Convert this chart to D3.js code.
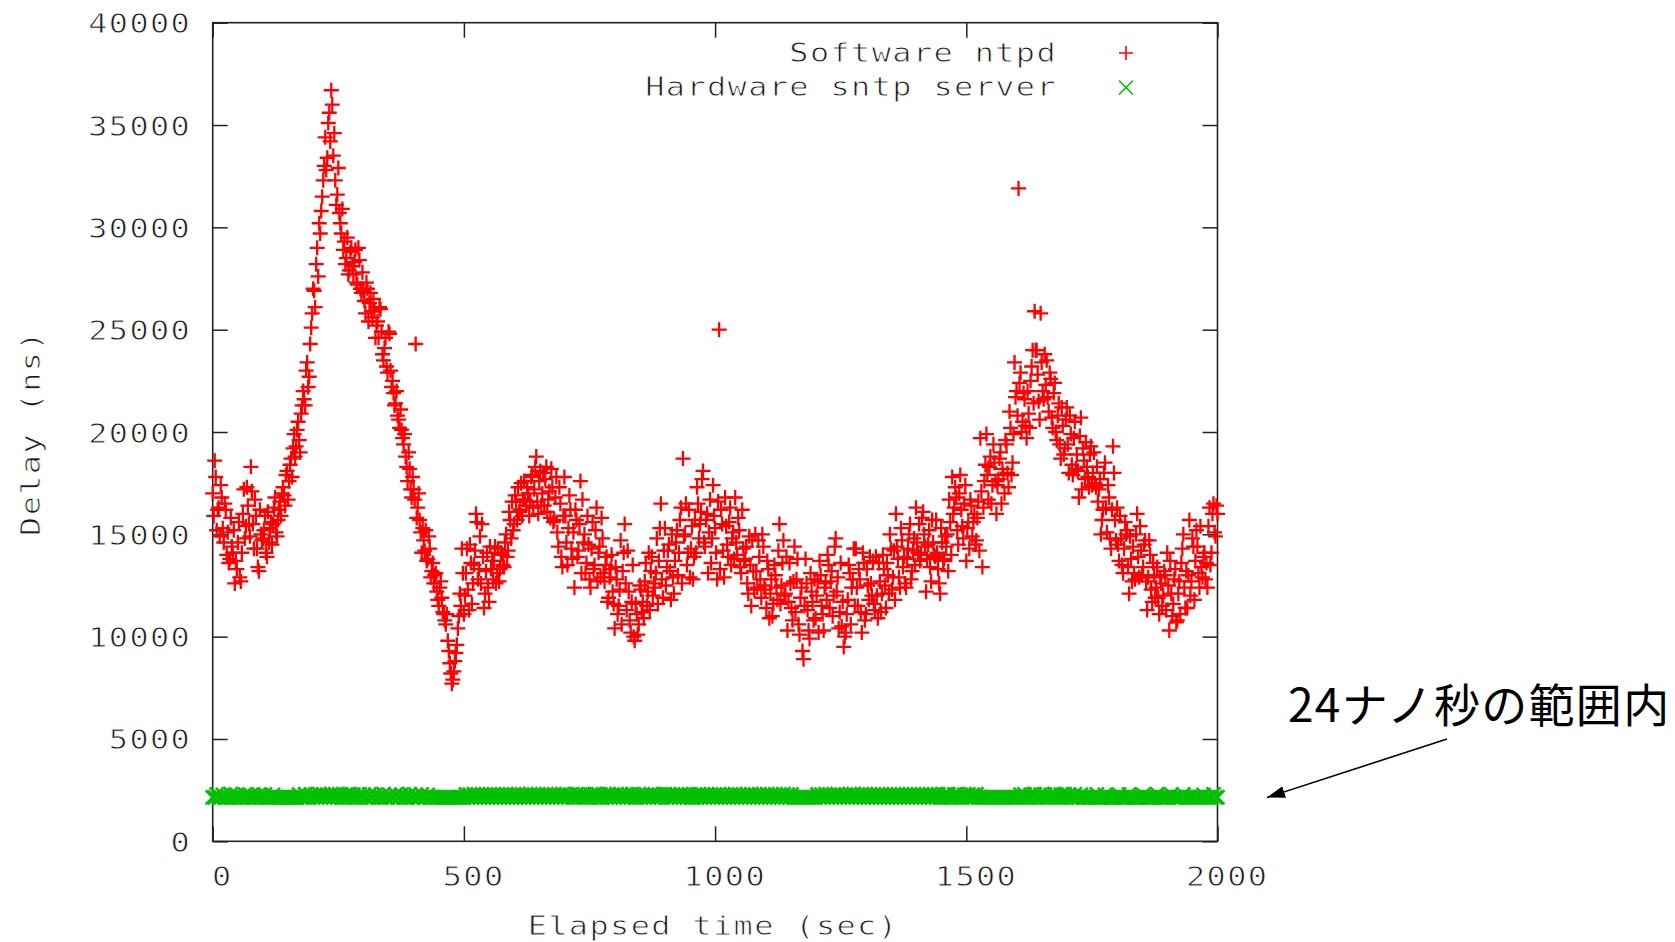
<!DOCTYPE html>
<html>
<head>
<meta charset="utf-8">
<script src="https://cdn.jsdelivr.net/npm/d3@7"></script>
<style>
    body { margin: 0; background: #fff; }
    svg { display: block; }
    .mono {
        font-family: "DejaVu Sans Mono", monospace; font-size: 27px; letter-spacing: 1.2px;
        fill: #1a1a1a; stroke: #fff; stroke-width: 0.8px;
    }
</style>
</head>
<body>
<svg id="chart" width="1675" height="942"></svg>
<script>
// axis ticks
const yTicks = [0, 5000, 10000, 15000, 20000, 25000, 30000, 35000, 40000];
const xTicks = [0, 500, 1000, 1500, 2000];
const xLabel = 'Elapsed time (sec)';
const yLabel = 'Delay (ns)';
const seriesNames = ['Software ntpd', 'Hardware sntp server'];
const note = '24ナノ秒の範囲内';

// samples every 4 s; the second software run is offset by 2 s
const sampleStep = 4;
const offsetB = 2;

// Software ntpd delay (ns) at t = 0, 4, 8 ... 2000
const softwareDelay = [
    17000,18600,15200,16300,17400, 15300,16500,14000,13600,15800, 14100,12600,13300,15600,12700, 16000,14800,17300,15500,18300, 15500,16700,14300,13200,15000,
    14800,15900,13900,14600,15600, 15500,16800,14900,16200,15900, 17300,16400,18100,17600,18700, 19200,18800,20100,19600,20900, 22000,21300,23400,22700,25100,
    27000,26100,29000,30200,30800, 32300,34400,33400,35600,36700, 33500,32300,31600,30700,29700, 28900,28200,29500,27900,29000, 27700,28900,27200,28400,26800,
    26900,25800,27000,26300,25900, 26500,24600,25400,26100,24900, 23500,24600,22900,24800,22200, 21900,21400,20800,20200,20100, 19400,18800,17600,18200,16800,
    17200,24300,16300,15700,14100, 14700,15200,13800,14300,13200, 12600,13100,11800,12400,11900, 11100,10600,9800,8700,7700, 8300,9200,10400,12100,14300,
    11100,13100,12300,14500,11600, 13500,16000,12800,14900,15500, 11400,13200,12400,14400,13700, 13700,12600,14300,13300,14000, 13400,15000,14200,15700,16600,
    15500,16600,17300,16200,15900, 17600,16400,17000,16600,17900, 17200,18800,16000,18100,17000, 16400,18300,16700,15800,17300, 15700,17800,14400,16500,13400,
    17800,14600,15300,16200,13800, 12400,15700,14200,17600,16700, 15000,13600,14500,12400,15600, 13500,16300,14100,12900,14800, 12700,13900,11900,13300,12200,
    10400,12800,11500,14700,13200, 15500,11300,12200,10200,13500, 9800,11100,10600,12300,11700, 12700,11500,14100,13200,12000, 12400,14800,13700,16500,11900,
    15300,13400,14500,11800,12900, 13700,15200,14100,16300,18700, 15000,13500,16200,14300,12800, 15700,17300,14800,16100,18100, 14400,16000,15100,13600,17400,
    15300,12800,25000,16200,14200, 16800,14500,15600,13500,15100, 16800,14000,15200,13100,14300, 13800,12600,14900,11500,13200, 15000,12400,13900,11900,14400,
    12300,13700,10900,12800,11600, 13000,11800,15500,12500,14700, 12100,10300,13600,11400,12700, 11200,13800,10100,12400,8900, 13800,11300,9900,12200,10800,
    10900,12700,13700,11500,10300, 12600,14000,11400,13200,12000, 14800,12900,11200,10500,9500, 10200,11800,13100,12400,14300, 14300,11500,12800,10200,13600,
    11100,12500,13900,12000,11600, 13900,10900,12700,12100,13300, 11400,13000,15000,12300,14200, 16000,13800,12400,14700,13900, 12400,14300,15500,13200,14800,
    16300,14100,13700,15800,15000, 12200,14500,13400,15700,14000, 15700,13300,12100,14600,13800, 14400,13200,15600,17800,16300, 16800,14500,17900,15400,16500,
    13700,15600,16700,14900,16000, 14700,16600,19700,13400,17600, 19900,16700,18800,17400,18500, 16000,17700,19000,18200,17000, 19400,17300,20200,18500,23400,
    22000,31900,22900,20500,21600, 19700,20900,22500,24000,25900, 24000,21500,25800,22000,23800, 23500,21000,22600,20200,22400, 19600,21400,18700,20300,19200,
    21200,18000,19900,17900,20500, 18900,16800,20700,19200,17700, 18300,17300,19300,18000,17500, 18300,17200,15000,16200,18500, 15100,16800,14300,19300,15700,
    16300,13700,14800,13100,15600, 15200,12100,13800,14400,12800, 16000,12900,14200,13400,14700, 11300,14700,12300,13600,11900, 13400,11100,12600,12000,13000,
    14100,10300,12100,11600,13300, 10800,12700,13600,15000,11400, 11400,15700,12700,14400,13700, 14400,12400,13400,13900,12800, 12400,16300,14100,16500,14900,
    16000
];

// Software ntpd delay (ns) at t = 2, 6, 10 ... 1998
const softwareDelayB = [
    15900,17800,16200,14900,16800, 14600,16200,15100,13800,14400, 15200,13700,14600,12900,14100, 17200,15400,16400,14900,17100, 14300,15900,13400,16200,14700,
    15200,14100,16100,15300,14500, 16300,15100,15700,16600,17000, 16900,17900,16700,18400,17800, 19900,19300,20500,19000,21300, 21600,23000,22200,24300,25800,
    26900,28200,27600,29700,31500, 33000,32800,35100,34200,36000, 34600,31100,32900,30200,30900, 29300,28500,27700,28800,28100, 28300,27300,29000,27000,27800,
    26400,27300,25400,26800,25600, 25900,25200,24600,26000,23800, 24100,23200,24900,23000,22500, 21300,22000,20600,21100,19700, 19900,18300,19000,17200,17800,
    16700,15800,17000,15100,15300, 14200,13700,14900,12900,13600, 13000,12200,11500,12700,11200, 10800,11100,9300,8200,7900, 8800,9600,11000,11500,13100,
    12000,14300,11300,13600,12600, 14200,15600,13300,12600,13900, 12100,14100,11700,13300,12800, 14400,13100,12700,14100,13500, 14600,13900,16100,14800,15200,
    16900,15700,16100,17500,16700, 16700,17300,15900,17800,16300, 18300,16600,17600,16400,18000, 17700,16100,17100,18200,15600, 16800,15100,17300,13900,15900,
    15900,13500,16900,14300,15100, 16200,13900,15500,13100,14600, 13100,15900,12800,14300,13300, 15200,12700,14400,15800,13100, 13500,11700,12900,14000,11600,
    13400,11100,12300,10600,14100, 12600,14200,10800,11700,10000, 11600,10100,12500,11200,10900, 13600,12200,11300,13900,12600, 13100,11600,15300,12800,14200,
    12500,14200,13200,15000,12100, 14600,13000,15700,12600,14900, 16500,14100,12900,15400,13900, 14100,16500,15500,17700,14600, 15700,13100,16700,14800,15900,
    14100,16600,13300,15500,12900, 15400,13900,16300,14800,13800, 14600,15800,13400,16200,13700, 14400,12100,13500,14700,12300, 13200,14700,12800,15000,12500,
    11400,13300,12100,11000,13500, 12400,14200,11600,13600,12000, 13900,11700,12600,10800,14400, 12800,10600,11900,9300,11500, 12600,10300,13100,11700,12800,
    12000,10200,13000,11100,12400, 11800,13500,12700,11000,14400, 12200,10400,13600,11700,10000, 11100,13500,10600,12800,11500, 12400,13300,11200,14100,10800,
    13300,11800,12600,13700,11300, 12000,13600,11200,14000,12500, 13600,12100,14300,12900,11800, 14400,12900,15300,13400,12600, 13800,15000,12800,14200,13500,
    14600,15500,14000,16100,14400, 13800,15200,12700,14600,13900, 14100,12600,15300,13700,14900, 15000,16700,14000,16000,17300, 15200,17000,16200,14800,17400,
    15300,14300,16400,15600,14500, 15800,14200,17100,16300,18400, 17900,18300,16500,19400,17600, 17400,18700,16500,17900,19600, 18000,21000,17900,19900,21700,
    20800,22400,20000,21900,20300, 22000,20200,23200,21400,24000, 22800,20600,23400,21600,22300, 21700,22900,20700,21900,20000, 20800,19400,21200,18900,20600,
    19400,20800,18400,19700,18200, 18100,19800,17200,18600,19500, 17800,18900,17400,19000,17300, 16600,17700,15700,18000,16300, 17400,14800,16200,18000,14700,
    14500,15900,13500,14300,15000, 13400,14900,12700,13100,15000, 13900,15400,13000,14500,12700, 12900,14000,11700,13000,12400, 11900,12900,11500,13200,11300,
    12500,13700,11000,12800,10700, 12100,11100,14300,12400,13200, 13000,12000,14800,11800,15200, 13100,15400,12900,14100,13600, 15400,13500,16000,15100,16400
];

// Hardware sntp server delay (ns) at t = 0, 4, 8 ... 2000: a flat band near 2150 ns
const hardwareDelay = [
    2150,2150,2290,2150,2150,2270,2150,2150,2150,2300,2150,2150,2280,2150,2150,2150,2290,2150,2150,2260,2150,2150,2150,2280,2150,
    2150,2290,2150,2150,2150,2270,2150,2150,2150,2150,2150,2150,2150,2150,2150,2150,2150,2150,2280,2150,2150,2300,2150,2150,2270,
    2150,2280,2150,2300,2150,2290,2150,2270,2150,2300,2150,2280,2150,2290,2150,2150,2270,2150,2300,2150,2280,2150,2150,2290,2150,
    2270,2150,2150,2290,2150,2150,2280,2150,2150,2150,2300,2150,2150,2270,2150,2150,2290,2150,2150,2280,2150,2150,2150,2300,2150,
    2150,2280,2150,2150,2290,2150,2150,2270,2150,2150,2150,2150,2150,2150,2150,2150,2150,2150,2150,2150,2150,2150,2150,2150,2150,
    2150,2290,2150,2280,2150,2300,2150,2270,2150,2290,2150,2280,2150,2300,2150,2290,2150,2270,2150,2280,2150,2300,2150,2290,2150,
    2280,2150,2300,2150,2270,2150,2290,2150,2300,2150,2280,2150,2290,2150,2270,2150,2300,2150,2280,2150,2290,2150,2270,2150,2300,
    2150,2290,2150,2280,2150,2150,2300,2150,2270,2150,2290,2150,2150,2280,2150,2300,2150,2290,2150,2150,2270,2150,2300,2150,2280,
    2150,2300,2150,2290,2150,2270,2150,2280,2150,2300,2150,2150,2290,2150,2280,2150,2270,2150,2300,2150,2290,2150,2280,2150,2270,
    2300,2150,2280,2150,2290,2150,2270,2150,2300,2150,2280,2150,2290,2150,2150,2270,2150,2300,2150,2280,2150,2290,2150,2270,2150,
    2290,2150,2300,2150,2280,2150,2270,2150,2290,2150,2300,2150,2280,2150,2270,2150,2290,2150,2300,2150,2280,2150,2290,2150,2270,
    2150,2300,2150,2280,2150,2290,2150,2270,2150,2300,2150,2280,2150,2290,2150,2150,2150,2150,2150,2150,2150,2150,2150,2150,2150,
    2150,2290,2150,2280,2150,2300,2150,2270,2150,2290,2150,2300,2150,2280,2150,2270,2150,2290,2150,2300,2150,2280,2150,2290,2150,
    2300,2150,2270,2150,2290,2150,2280,2150,2300,2150,2270,2150,2290,2150,2280,2150,2300,2150,2270,2150,2290,2150,2280,2150,2300,
    2150,2280,2150,2290,2150,2270,2150,2300,2150,2280,2150,2290,2150,2150,2270,2150,2300,2150,2150,2280,2150,2290,2150,2150,2270,
    2150,2290,2150,2280,2150,2300,2150,2150,2150,2150,2150,2150,2150,2150,2150,2150,2150,2150,2150,2150,2150,2150,2150,2150,2150,
    2150,2150,2280,2150,2290,2150,2150,2270,2150,2300,2150,2150,2280,2150,2290,2150,2150,2270,2150,2300,2150,2150,2280,2150,2290,
    2150,2270,2150,2150,2300,2150,2150,2280,2150,2150,2150,2150,2150,2150,2150,2290,2150,2150,2150,2270,2150,2150,2150,2150,2150,
    2150,2280,2150,2150,2150,2150,2290,2150,2150,2150,2150,2150,2150,2270,2150,2150,2150,2150,2150,2150,2300,2150,2150,2150,2150,
    2150,2150,2280,2150,2150,2150,2150,2150,2290,2150,2150,2150,2150,2150,2150,2150,2150,2150,2270,2150,2150,2150,2150,2290,2150,
    2150
];

const plot = { left: 212.7, right: 1217.5, top: 22.7, bottom: 841.3 };
const tickLen = 15;
const ink = '#222';
const widen = 1.18; // the plot font is wider than DejaVu Sans Mono

const svg = d3.select('#chart');

const x = d3.scaleLinear().domain([0, 2000]).range([plot.left, plot.right]);
const y = d3.scaleLinear().domain([0, 40000]).range([plot.bottom, plot.top]);

const software = softwareDelay.map((v, i) => ({ t: i * sampleStep, v }))
    .concat(softwareDelayB.map((v, i) => ({ t: i * sampleStep + offsetB, v })));
const hardware = hardwareDelay.map((v, i) => ({ t: i * sampleStep, v }));

// stretch a text horizontally, keeping its anchor at (px, py)
function stretched(sel, px, py) {
    sel.attr('x', px / widen).attr('y', py).attr('transform', `scale(${widen},1)`);
}

// frame
svg.append('rect')
    .attr('x', plot.left).attr('y', plot.top)
    .attr('width', plot.right - plot.left).attr('height', plot.bottom - plot.top)
    .attr('fill', 'none').attr('stroke', ink).attr('stroke-width', 1.6);

function styleAxis(g) {
    g.select('.domain').remove();
    g.attr('font-size', null).attr('font-family', null);
    g.selectAll('.tick line').attr('stroke', ink).attr('stroke-width', 1.5);
    g.selectAll('.tick text').attr('class', 'mono').attr('fill', null);
}

// left axis with labels, right mirror
svg.append('g')
    .attr('transform', `translate(${plot.left},0)`)
    .call(d3.axisLeft(y).tickValues(yTicks).tickSize(-tickLen).tickFormat(d3.format('d')))
    .call(styleAxis)
    .call(g => g.selectAll('.tick text').call(stretched, -21.5, 0).attr('dy', '0.37em'));

svg.append('g')
    .attr('transform', `translate(${plot.right},0)`)
    .call(d3.axisRight(y).tickValues(yTicks).tickSize(-tickLen).tickFormat(''))
    .call(styleAxis);

// bottom axis with labels, top mirror
svg.append('g')
    .attr('transform', `translate(0,${plot.bottom})`)
    .call(d3.axisBottom(x).tickValues(xTicks).tickSize(-tickLen).tickFormat(d3.format('d')))
    .call(styleAxis)
    .call(g => g.selectAll('.tick text').call(stretched, 9.2, 45).attr('dy', null));

svg.append('g')
    .attr('transform', `translate(0,${plot.top})`)
    .call(d3.axisTop(x).tickValues(xTicks).tickSize(-tickLen).tickFormat(''))
    .call(styleAxis);

// axis titles
svg.append('text').attr('class', 'mono')
    .attr('text-anchor', 'middle')
    .call(stretched, 713, 935)
    .text(xLabel);

svg.append('text').attr('class', 'mono')
    .attr('transform', `translate(40,433) rotate(-90) scale(${widen},1)`)
    .attr('text-anchor', 'middle')
    .text(yLabel);

// markers
const plusPath = 'M-7.5,0H7.5M0,-7.5V7.5';
const crossPath = 'M-7,-7L7,7M-7,7L7,-7';

svg.append('g')
    .selectAll('path')
    .data(software)
    .join('path')
    .attr('d', plusPath)
    .attr('transform', d => `translate(${x(d.t)},${y(d.v)})`)
    .attr('fill', 'none').attr('stroke', '#ff0000').attr('stroke-width', 2.3);

svg.append('g')
    .selectAll('path')
    .data(hardware)
    .join('path')
    .attr('d', crossPath)
    .attr('transform', d => `translate(${x(d.t)},${y(d.v)})`)
    .attr('fill', 'none').attr('stroke', '#00c000').attr('stroke-width', 2.6);

// legend
const legend = svg.append('g');
const legendRows = [
    { name: seriesNames[0], path: 'M-7,0H7M0,-7V7', color: '#ff0000', base: 62.5, my: 53 },
    { name: seriesNames[1], path: crossPath, color: '#00c000', base: 96.5, my: 87.5 }
];
legendRows.forEach(r => {
    legend.append('text').attr('class', 'mono')
        .attr('text-anchor', 'end')
        .call(stretched, 1057, r.base)
        .text(r.name);
    legend.append('path')
        .attr('d', r.path)
        .attr('transform', `translate(1126,${r.my})`)
        .attr('fill', 'none').attr('stroke', r.color).attr('stroke-width', 1.6);
});

// annotation
svg.append('defs').append('marker')
    .attr('id', 'head')
    .attr('markerUnits', 'userSpaceOnUse')
    .attr('markerWidth', 20).attr('markerHeight', 14)
    .attr('refX', 18).attr('refY', 6)
    .attr('orient', 'auto')
    .append('path')
    .attr('d', 'M0,0L18,6L0,12Z')
    .attr('fill', '#000');

svg.append('line')
    .attr('x1', 1447).attr('y1', 739)
    .attr('x2', 1267).attr('y2', 797.5)
    .attr('stroke', '#000').attr('stroke-width', 1.6)
    .attr('marker-end', 'url(#head)');

svg.append('text')
    .attr('x', 1288).attr('y', 722)
    .attr('font-family', '"Noto Sans CJK JP", sans-serif')
    .attr('font-size', 46).attr('font-weight', 400)
    .attr('letter-spacing', 1.3)
    .attr('fill', '#000')
    .text(note);
</script>
</body>
</html>
